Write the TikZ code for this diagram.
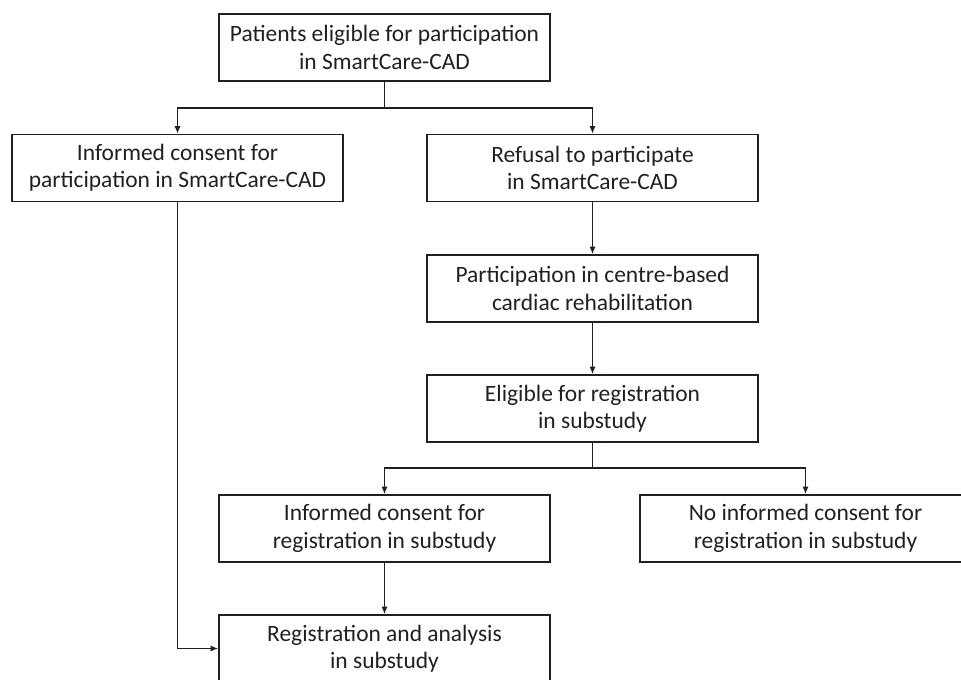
\documentclass[tikz,border=0pt]{standalone}
\usepackage{fontspec}
\setmainfont{Carlito}
\usetikzlibrary{arrows.meta}
\definecolor{ink}{HTML}{231F20}
\begin{document}
\begin{tikzpicture}[x=0.75pt,y=-0.75pt,
  box/.style={draw=ink,line width=1.4pt,minimum width=248.25pt,minimum height=50.25pt,
    inner sep=0pt,align=center,text=ink,font=\fontsize{17.6}{20.5}\selectfont},
  conn/.style={draw=ink,line width=0.9pt},
  arr/.style={conn,-{Latex[length=5.5pt,width=4.5pt]}}]
\useasboundingbox (0,0) rectangle (961,679);
\node[box] (b1) at (384.5,47.5) {Patients eligible for participation\\in SmartCare-CAD};
\node[box] (b2) at (177.5,168) {Informed consent for\\participation in SmartCare-CAD};
\node[box] (b3) at (592.5,168) {Refusal to participate\\in SmartCare-CAD};
\node[box] (b4) at (592.5,288.5) {Participation in centre-based\\cardiac rehabilitation};
\node[box] (b5) at (592.5,408.5) {Eligible for registration\\in substudy};
\node[box] (b6) at (384.5,528.5) {Informed consent for\\registration in substudy};
\node[box] (b7) at (805.5,528.5) {No informed consent for\\registration in substudy};
\node[box] (b8) at (384.5,648.5) {Registration and analysis\\in substudy};
\coordinate (j1) at (384.5,108);
\coordinate (j2) at (592.5,468);
\draw[conn] (b1.south) -- (j1);
\draw[arr] (j1) -| (b2.north);
\draw[arr] (j1) -| (b3.north);
\draw[arr] (b3) -- (b4);
\draw[arr] (b4) -- (b5);
\draw[conn] (b5.south) -- (j2);
\draw[arr] (j2) -| (b6.north);
\draw[arr] (j2) -| (b7.north);
\draw[arr] (b6) -- (b8);
\draw[arr] (b2.south) |- (b8.west);
\end{tikzpicture}
\end{document}
